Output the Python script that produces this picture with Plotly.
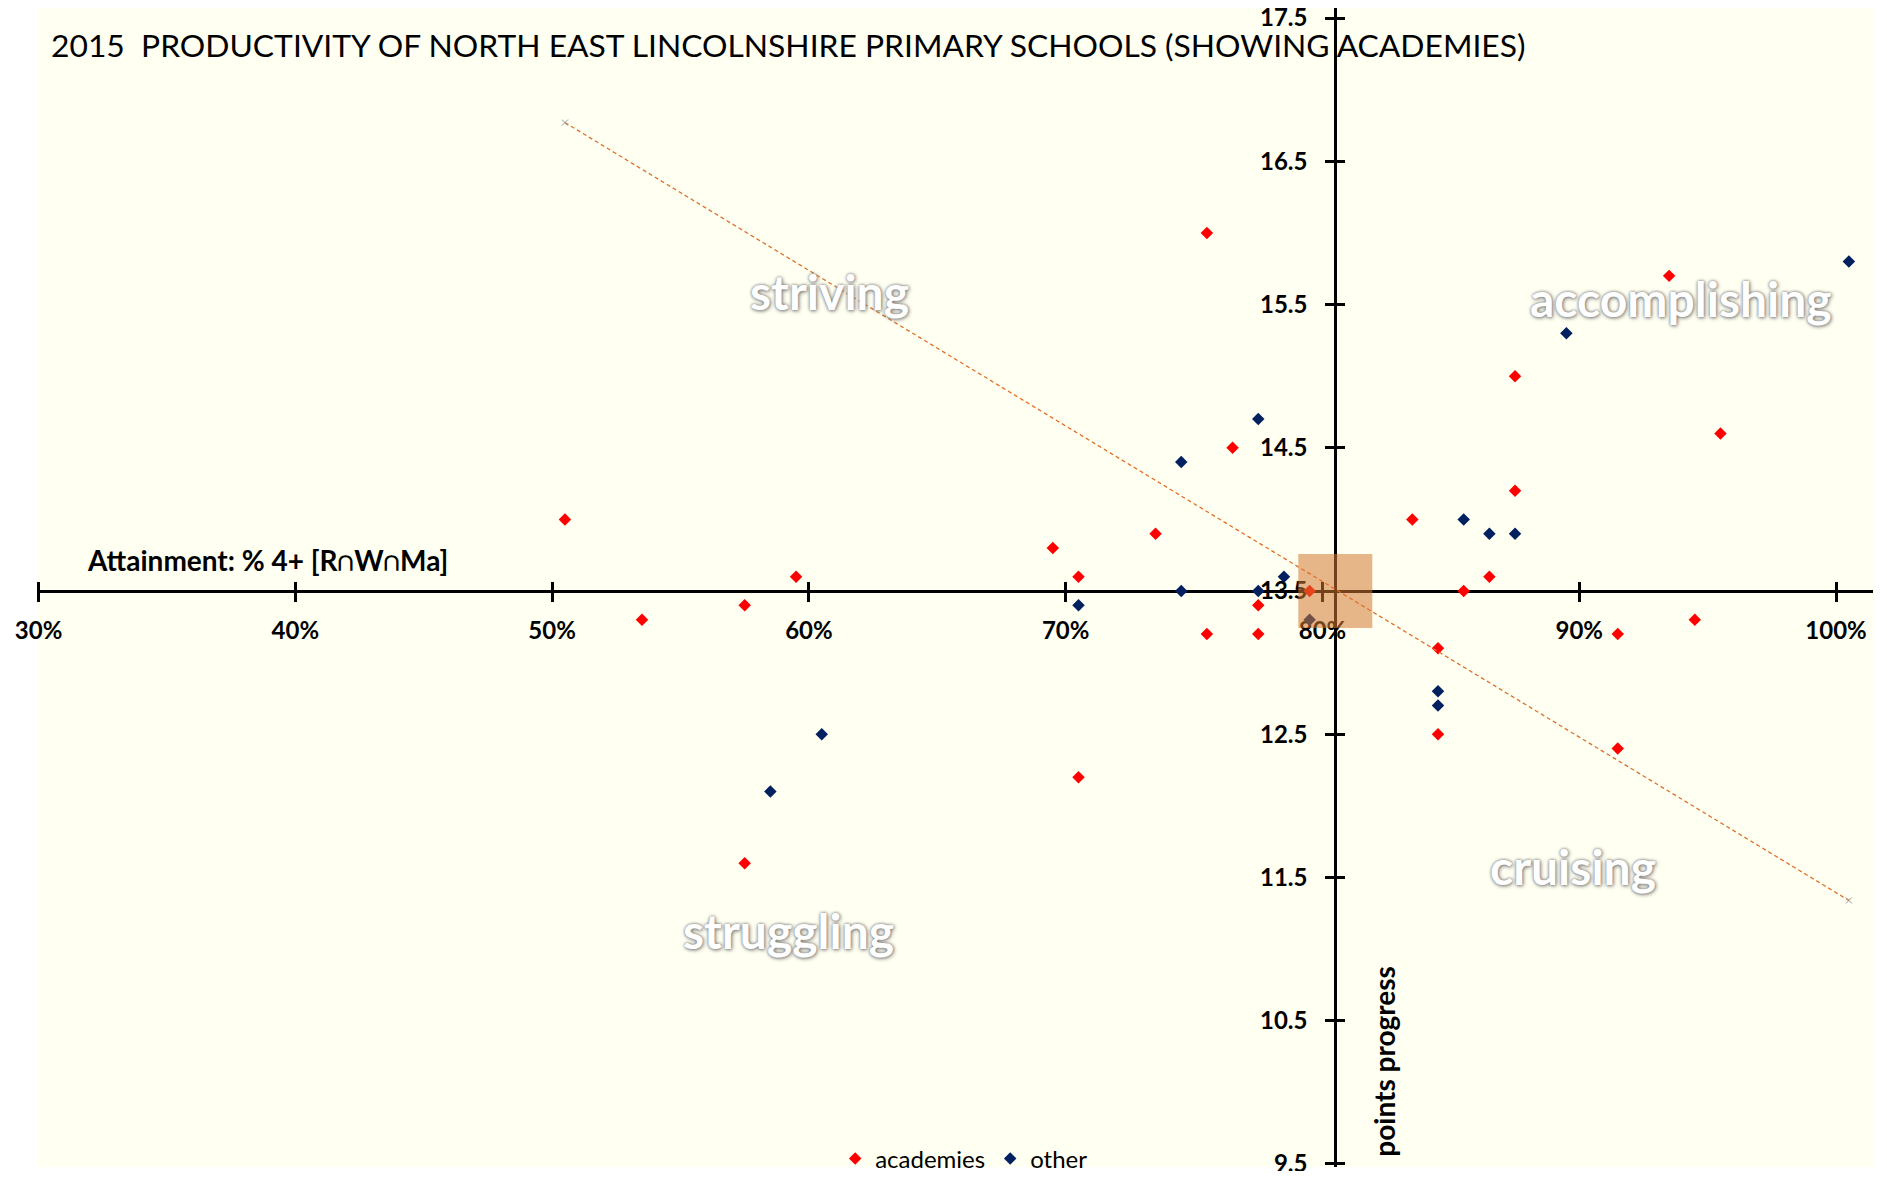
import plotly.graph_objects as go

# ---- data ----
acad_x = [50.5, 53.5, 57.5, 59.5, 57.5, 69.5, 70.5, 70.5, 73.5, 75.5, 75.5, 76.5, 77.5, 77.5,
          79.5, 83.5, 85.5, 84.5, 84.5, 86.5, 87.5, 87.5, 91.5, 91.5, 93.5, 94.5, 95.5]
acad_y = [14.0, 13.3, 13.4, 13.6, 11.6, 13.8, 13.6, 12.2, 13.9, 16.0, 13.2, 14.5, 13.4, 13.2,
          13.5, 14.0, 13.5, 13.1, 12.5, 13.6, 15.0, 14.2, 13.2, 12.4, 15.7, 13.3, 14.6]

other_x = [58.5, 60.5, 70.5, 74.5, 74.5, 77.5, 77.5, 78.5, 79.5, 84.5, 84.5, 85.5, 86.5, 87.5,
           89.5, 100.5]
other_y = [12.1, 12.5, 13.4, 14.4, 13.5, 14.7, 13.5, 13.6, 13.3, 12.8, 12.7, 14.0, 13.9, 13.9,
           15.3, 15.8]

trend_x = [50.5, 100.5]
trend_y = [16.77, 11.34]

cross_x = [80.5]   # vertical axis crosses here (median attainment)
cross_y = [13.5]   # horizontal axis crosses here (median progress)

x_ticks = [30, 40, 50, 60, 70, 80, 90, 100]
x_tick_labels = ["30%", "40%", "50%", "60%", "70%", "80%", "90%", "100%"]
y_ticks = [9.5, 10.5, 11.5, 12.5, 13.5, 14.5, 15.5, 16.5, 17.5]
y_tick_labels = ["9.5", "10.5", "11.5", "12.5", "13.5", "14.5", "15.5", "16.5", "17.5"]

# ---- layout constants ----
XR = [29.94, 101.44]
YR = [9.479, 17.570]
xpos = (cross_y[0] - YR[0]) / (YR[1] - YR[0])
ypos = (cross_x[0] - XR[0]) / (XR[1] - XR[0])

FONT = "Lato"
bold_tick = dict(family=FONT, size=24, color="black", weight="bold")
bold_label = dict(family=FONT, size=28, color="black", weight="bold")

fig = go.Figure()
fig.add_trace(go.Scatter(x=acad_x, y=acad_y, mode="markers", name="academies",
                         marker=dict(symbol="diamond", size=9.6, color="#FF0000", line=dict(width=0))))
fig.add_trace(go.Scatter(x=other_x, y=other_y, mode="markers", name="other",
                         marker=dict(symbol="diamond", size=9.6, color="#002060", line=dict(width=0))))
fig.add_trace(go.Scatter(x=cross_x, y=cross_y, mode="markers", showlegend=False, hoverinfo="skip",
                         marker=dict(symbol="square", size=74, color="rgba(210,120,50,0.55)",
                                     line=dict(width=0))))
fig.add_trace(go.Scatter(x=trend_x, y=trend_y, mode="lines+markers", showlegend=False,
                         line=dict(color="#E07028", width=1.3, dash="4px,3px"),
                         marker=dict(symbol="x-thin-open", size=6, color="#999999",
                                     line=dict(color="#999999", width=1))))
# dummy trace for the crossing-tick overlay axes
fig.add_trace(go.Scatter(x=[], y=[], xaxis="x2", yaxis="y2", showlegend=False))

common = dict(showgrid=False, zeroline=False, layer="below traces")
fig.update_layout(
    width=1871, height=1163,
    margin=dict(l=29, r=6, t=0, b=4, autoexpand=False),
    paper_bgcolor="white", plot_bgcolor="#FFFFF2",
    title=dict(text="2015  PRODUCTIVITY OF NORTH EAST LINCOLNSHIRE PRIMARY SCHOOLS (SHOWING ACADEMIES)",
               x=43 / 1871, xanchor="left", xref="container",
               y=1 - 38 / 1163, yanchor="middle", yref="container",
               font=dict(family=FONT, size=31.8, color="black")),
    xaxis=dict(range=XR, anchor="free", position=xpos, side="bottom",
               tickvals=x_ticks, ticktext=x_tick_labels, ticks="outside", ticklen=9,
               tickwidth=3, tickcolor="black", showline=True, linewidth=3, linecolor="black",
               tickfont=bold_tick, ticklabelstandoff=8, ticklabeloverflow="allow", **common),
    yaxis=dict(range=YR, anchor="free", position=ypos, side="left",
               tickvals=y_ticks, ticktext=y_tick_labels, ticks="outside", ticklen=9,
               tickwidth=3, tickcolor="black", showline=True, linewidth=3, linecolor="black",
               tickfont=bold_tick, ticklabelstandoff=13, ticklabeloverflow="allow", **common),
    xaxis2=dict(range=XR, overlaying="x", anchor="free", position=xpos, side="bottom",
                tickvals=x_ticks, ticks="inside", ticklen=9, tickwidth=3, tickcolor="black",
                showticklabels=False, showline=False, **common),
    yaxis2=dict(range=YR, overlaying="y", anchor="free", position=ypos, side="left",
                tickvals=y_ticks, ticks="inside", ticklen=9, tickwidth=3, tickcolor="black",
                showticklabels=False, showline=False, **common),
    legend=dict(orientation="h", x=0.505, xanchor="center", y=0.007, yanchor="middle",
                font=dict(family=FONT, size=24, color="black"), bgcolor="rgba(0,0,0,0)"),
)

quad_font = dict(family=FONT, size=48, color="white", weight="bold",
                 shadow="0px 0px 3px #777, 1px 1px 4px #888")
for txt, qx, qy in [("striving", 60.82, 15.59), ("accomplishing", 93.96, 15.54),
                    ("cruising", 89.75, 11.58), ("struggling", 59.22, 11.13)]:
    fig.add_annotation(x=qx, y=qy, text=txt, showarrow=False, font=quad_font,
                       xanchor="center", yanchor="middle")

fig.add_annotation(x=31.8, y=13.72, text="Attainment: % 4+ [R∩W∩Ma]", showarrow=False,
                   xanchor="left", yanchor="middle", font=bold_label)
fig.add_annotation(x=82.39, y=10.22, text="points progress", showarrow=False, textangle=-90,
                   xanchor="center", yanchor="middle", font=bold_label)

fig.write_html("out.html")
